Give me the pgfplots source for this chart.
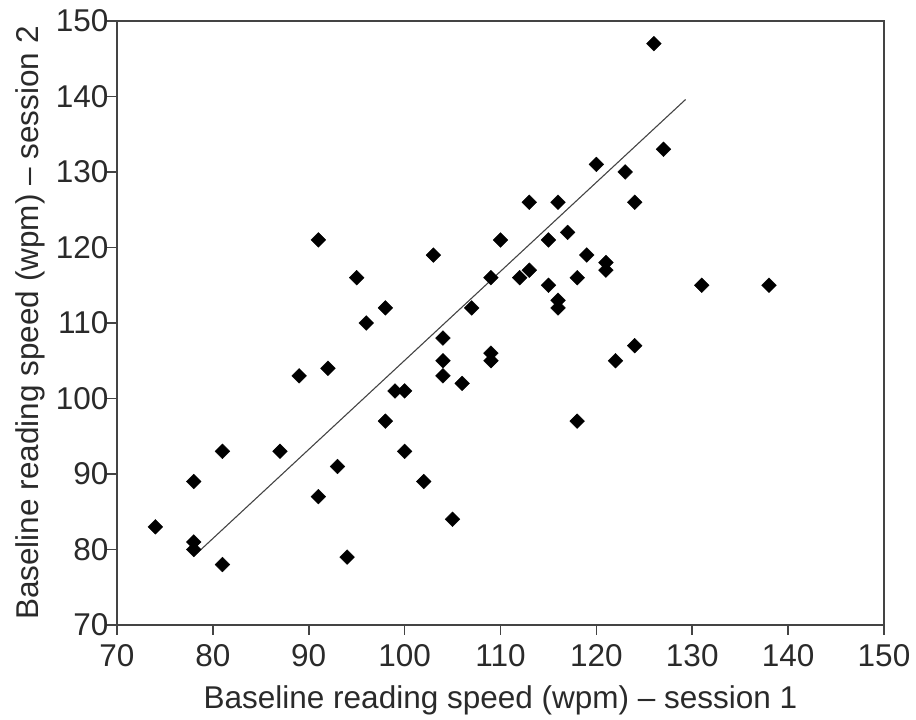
\documentclass[border=0pt]{standalone}
\usepackage{pgfplots}
\pgfplotsset{compat=1.18}
\usepackage{fontspec}
\setmainfont{Liberation Sans}
\definecolor{axgray}{HTML}{444444}
\definecolor{txtgray}{HTML}{2A2A2A}
\begin{document}
\begin{tikzpicture}
\begin{axis}[
  scale only axis,
  width=767pt, height=604pt,
  xmin=70, xmax=150, ymin=70, ymax=150,
  xtick={70,80,...,150}, ytick={70,80,...,150},
  axis line style={draw=axgray, line width=1.6pt},
  tick align=outside,
  tick pos=left,
  major tick length=10pt,
  major tick style={draw=axgray, line width=1.6pt},
  /pgf/number format/assume math mode=true,
  tick label style={font=\fontsize{31.5}{36}\selectfont, text=txtgray},
  xticklabel style={yshift=-6pt},
  yticklabel style={xshift=5pt},
  label style={font=\fontsize{31.5}{36}\selectfont, text=txtgray},
  xlabel={Baseline reading speed (wpm) -- session 1},
  ylabel={Baseline reading speed (wpm) -- session 2},
  xlabel style={at={(axis description cs:0.5,-0.124)}, anchor=center},
  ylabel style={at={(axis description cs:-0.113,0.5)}, anchor=center},
  clip=false,
]
\addplot[only marks, mark=square*, mark size=5.2pt, mark options={rotate=45, fill=black, draw=black}] coordinates {
(74,83) (78,89) (78,81) (78,80) (81,93) (81,78) (87,93) (89,103) (91,87) (91,121)
(92,104) (93,91) (94,79) (95,116) (96,110) (98,112) (98,97) (99,101) (100,101) (100,93)
(102,89) (103,119) (104,108) (104,105) (104,103) (105,84) (106,102) (107,112) (109,116) (109,106)
(109,105) (110,121) (112,116) (113,117) (113,126) (115,115) (115,121) (116,126) (116,113) (116,112)
(117,122) (118,116) (118,97) (119,119) (120,131) (121,118) (121,117) (122,105) (123,130) (124,126)
(124,107) (126,147) (127,133) (131,115) (138,115)
};
\addplot[axgray, line width=1.1pt] coordinates {(78,79.1) (129.3,139.6)};
\end{axis}
\useasboundingbox ([shift={(-117pt,-95pt)}]current axis.south west) rectangle ([shift={(32pt,21pt)}]current axis.north east);
\end{tikzpicture}
\end{document}
